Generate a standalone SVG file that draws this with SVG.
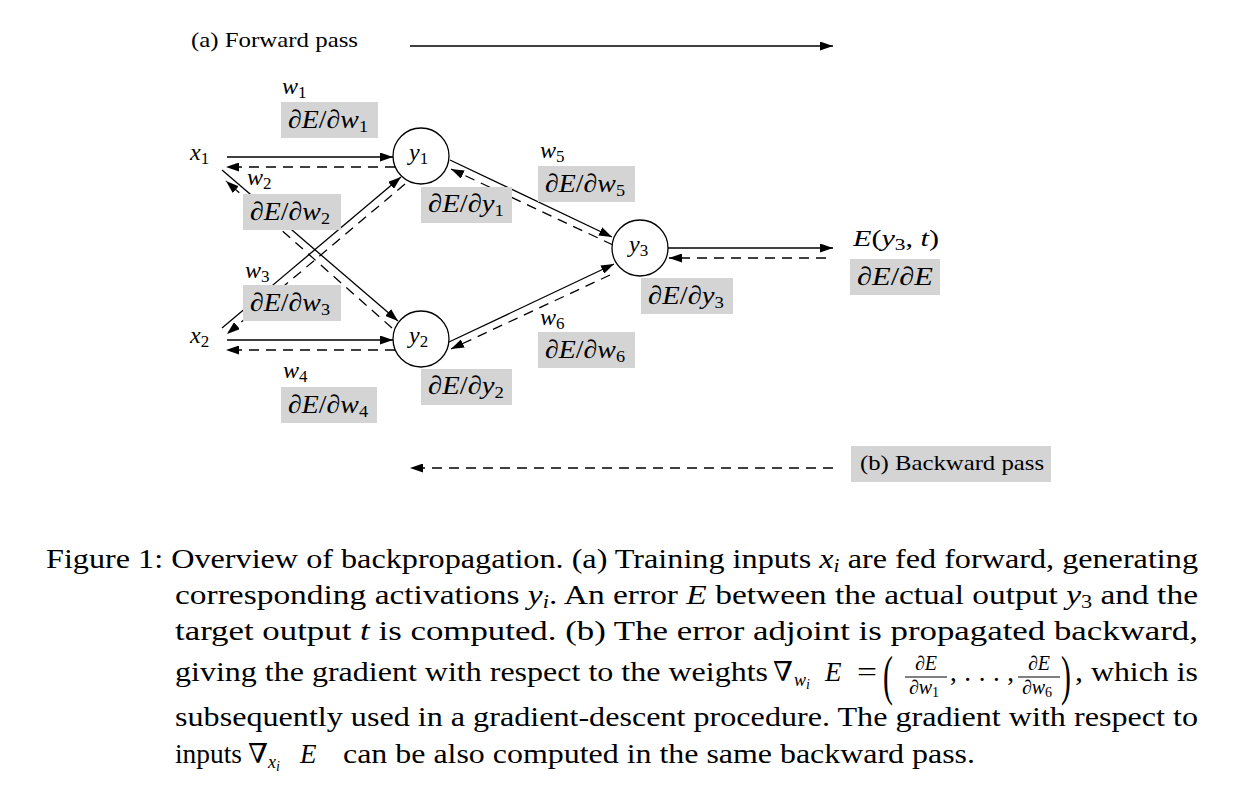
<svg xmlns="http://www.w3.org/2000/svg" width="1242" height="793" viewBox="0 0 1242 793">
<defs>
<marker id="ah" viewBox="0 0 13 9" refX="13" refY="4.5" markerWidth="13" markerHeight="9" markerUnits="userSpaceOnUse" orient="auto">
<path d="M0,0 L13,4.5 L0,9 z" fill="#000"/>
</marker>
<style>
.t{font-family:"Liberation Serif","DejaVu Serif",serif;fill:#000;font-size:21px}
.m{font-family:"Liberation Serif","DejaVu Serif",serif;font-style:italic;fill:#000;font-size:26px}
.wl{font-size:24px}
.r{font-style:normal}
.s{font-size:17px;font-style:normal}
.box{fill:#d4d4d4}
.sol{stroke:#000;stroke-width:1.3;fill:none;marker-end:url(#ah)}
.dsh{stroke:#000;stroke-width:1.3;fill:none;stroke-dasharray:10 7;marker-end:url(#ah)}
.node{fill:#fff;stroke:#000;stroke-width:1.3}
.cap{font-family:"Liberation Serif","DejaVu Serif",serif;font-size:27px;fill:#000}
</style>
</defs>
<rect width="1242" height="793" fill="#fff"/>

<g id="connectors">
<line class="sol" x1="410" y1="46" x2="833" y2="46"/>
<line class="dsh" x1="833" y1="468" x2="410" y2="468"/>
<line class="sol" x1="227" y1="157" x2="393" y2="157"/>
<line class="dsh" x1="395" y1="167" x2="226" y2="167"/>
<line class="sol" x1="227" y1="340" x2="393" y2="340"/>
<line class="dsh" x1="395" y1="350" x2="226" y2="350"/>
<line class="sol" x1="222" y1="170" x2="398" y2="321"/>
<line class="dsh" x1="392" y1="328" x2="226" y2="181"/>
<line class="sol" x1="222" y1="328" x2="401" y2="177"/>
<line class="dsh" x1="405" y1="184" x2="227" y2="334"/>
<line class="sol" x1="450" y1="160" x2="612" y2="237"/>
<line class="dsh" x1="613" y1="245" x2="451" y2="169"/>
<line class="sol" x1="449" y1="342" x2="614" y2="264"/>
<line class="dsh" x1="610" y1="275" x2="451" y2="349"/>
<line class="sol" x1="668" y1="248" x2="833" y2="248"/>
<line class="dsh" x1="826" y1="258" x2="669" y2="258"/>
</g>

<g id="forward-label"><text class="t" x="191" y="47" textLength="167" lengthAdjust="spacingAndGlyphs">(a) Forward pass</text></g>
<g id="backward-label">
<rect class="box" x="851" y="446" width="200" height="36"/>
<text class="t" x="860" y="470" textLength="184" lengthAdjust="spacingAndGlyphs">(b) Backward pass</text>
</g>

<g id="x1"><text class="m wl" x="190" y="160">x<tspan class="s" dy="4">1</tspan></text></g>
<g id="x2"><text class="m wl" x="190" y="343">x<tspan class="s" dy="4">2</tspan></text></g>

<g id="y1"><circle class="node" cx="421" cy="156" r="28"/><text class="m wl" x="409" y="160">y<tspan class="s" dy="4">1</tspan></text></g>
<g id="y2"><circle class="node" cx="421" cy="339" r="28"/><text class="m wl" x="409" y="343">y<tspan class="s" dy="4">2</tspan></text></g>
<g id="y3"><circle class="node" cx="640" cy="248" r="28"/><text class="m wl" x="629" y="252">y<tspan class="s" dy="4">3</tspan></text></g>

<g id="w1"><text class="m wl" x="282" y="94">w<tspan class="s" dy="4">1</tspan></text>
<rect class="box" x="281" y="102" width="97" height="36"/>
<text class="m" x="288" y="128" textLength="80" lengthAdjust="spacingAndGlyphs"><tspan class="r">∂</tspan>E<tspan class="r">/∂</tspan>w<tspan class="s" dy="4">1</tspan></text></g>
<g id="w2"><text class="m wl" x="247" y="185">w<tspan class="s" dy="4">2</tspan></text>
<rect class="box" x="243" y="194" width="98" height="36"/>
<text class="m" x="250" y="220" textLength="80" lengthAdjust="spacingAndGlyphs"><tspan class="r">∂</tspan>E<tspan class="r">/∂</tspan>w<tspan class="s" dy="4">2</tspan></text></g>
<g id="w3"><text class="m wl" x="245" y="278">w<tspan class="s" dy="4">3</tspan></text>
<rect class="box" x="243" y="285" width="98" height="36"/>
<text class="m" x="250" y="311" textLength="80" lengthAdjust="spacingAndGlyphs"><tspan class="r">∂</tspan>E<tspan class="r">/∂</tspan>w<tspan class="s" dy="4">3</tspan></text></g>
<g id="w4"><text class="m wl" x="283" y="378">w<tspan class="s" dy="4">4</tspan></text>
<rect class="box" x="281" y="387" width="96" height="36"/>
<text class="m" x="288" y="413" textLength="80" lengthAdjust="spacingAndGlyphs"><tspan class="r">∂</tspan>E<tspan class="r">/∂</tspan>w<tspan class="s" dy="4">4</tspan></text></g>
<g id="w5"><text class="m wl" x="540" y="158">w<tspan class="s" dy="4">5</tspan></text>
<rect class="box" x="538" y="166" width="97" height="36"/>
<text class="m" x="545" y="192" textLength="80" lengthAdjust="spacingAndGlyphs"><tspan class="r">∂</tspan>E<tspan class="r">/∂</tspan>w<tspan class="s" dy="4">5</tspan></text></g>
<g id="w6"><text class="m wl" x="540" y="325">w<tspan class="s" dy="4">6</tspan></text>
<rect class="box" x="538" y="332" width="97" height="36"/>
<text class="m" x="545" y="358" textLength="80" lengthAdjust="spacingAndGlyphs"><tspan class="r">∂</tspan>E<tspan class="r">/∂</tspan>w<tspan class="s" dy="4">6</tspan></text></g>
<g id="dy1"><rect class="box" x="421" y="187" width="91" height="36"/>
<text class="m" x="428" y="212" textLength="76" lengthAdjust="spacingAndGlyphs"><tspan class="r">∂</tspan>E<tspan class="r">/∂</tspan>y<tspan class="s" dy="4">1</tspan></text></g>
<g id="dy2"><rect class="box" x="421" y="369" width="91" height="36"/>
<text class="m" x="428" y="394" textLength="76" lengthAdjust="spacingAndGlyphs"><tspan class="r">∂</tspan>E<tspan class="r">/∂</tspan>y<tspan class="s" dy="4">2</tspan></text></g>
<g id="dy3"><rect class="box" x="641" y="278" width="92" height="36"/>
<text class="m" x="648" y="304" textLength="76" lengthAdjust="spacingAndGlyphs"><tspan class="r">∂</tspan>E<tspan class="r">/∂</tspan>y<tspan class="s" dy="4">3</tspan></text></g>
<g id="E"><text class="m wl" x="853" y="246" textLength="86" lengthAdjust="spacingAndGlyphs">E<tspan class="r">(</tspan>y<tspan class="s" dy="4">3</tspan><tspan class="r" dy="-4">, </tspan>t<tspan class="r">)</tspan></text>
<rect class="box" x="850" y="259" width="90" height="36"/>
<text class="m" x="857" y="285" textLength="76" lengthAdjust="spacingAndGlyphs"><tspan class="r">∂</tspan>E<tspan class="r">/∂</tspan>E</text></g>

<g id="caption">
<text class="cap" x="46" y="568" textLength="1152" lengthAdjust="spacingAndGlyphs">Figure 1: Overview of backpropagation. (a) Training inputs <tspan font-style="italic">x</tspan><tspan font-style="italic" font-size="18" dy="4">i</tspan><tspan dy="-4"> are fed forward, generating</tspan></text>
<text class="cap" x="175" y="604" textLength="1023" lengthAdjust="spacingAndGlyphs">corresponding activations <tspan font-style="italic">y</tspan><tspan font-style="italic" font-size="18" dy="4">i</tspan><tspan dy="-4">. An error </tspan><tspan font-style="italic">E</tspan> between the actual output <tspan font-style="italic">y</tspan><tspan font-size="18" dy="4">3</tspan><tspan dy="-4"> and the</tspan></text>
<text class="cap" x="175" y="640" textLength="1023" lengthAdjust="spacingAndGlyphs">target output <tspan font-style="italic">t</tspan> is computed.  (b) The error adjoint is propagated backward,</text>
<text class="cap" x="175" y="681" textLength="593" lengthAdjust="spacingAndGlyphs">giving the gradient with respect to the weights</text>
<text class="cap" x="773" y="681" textLength="20" lengthAdjust="spacingAndGlyphs">∇</text>
<text class="cap" x="794" y="686" style="font-size:18px;font-style:italic">w<tspan font-size="14" dy="3">i</tspan></text>
<text class="cap" x="825" y="681" style="font-style:italic">E</text>
<text class="cap" x="857" y="681" textLength="20" lengthAdjust="spacingAndGlyphs">=</text>
<text class="cap" x="883" y="694" style="font-size:54px" transform="translate(883 0) scale(0.55 1) translate(-883 0)">(</text>
<text class="cap" x="926" y="670" style="font-size:20px" text-anchor="middle">∂<tspan font-style="italic">E</tspan></text>
<line x1="905" y1="677" x2="947" y2="677" stroke="#000" stroke-width="1"/>
<text class="cap" x="924" y="694" style="font-size:20px" text-anchor="middle">∂<tspan font-style="italic">w</tspan><tspan font-size="14" dy="3">1</tspan></text>
<text class="cap" x="950" y="681" textLength="64" lengthAdjust="spacing">, . . . ,</text>
<text class="cap" x="1039" y="670" style="font-size:20px" text-anchor="middle">∂<tspan font-style="italic">E</tspan></text>
<line x1="1018" y1="677" x2="1060" y2="677" stroke="#000" stroke-width="1"/>
<text class="cap" x="1037" y="694" style="font-size:20px" text-anchor="middle">∂<tspan font-style="italic">w</tspan><tspan font-size="14" dy="3">6</tspan></text>
<text class="cap" x="1061" y="694" style="font-size:54px" transform="translate(1061 0) scale(0.55 1) translate(-1061 0)">)</text>
<text class="cap" x="1075" y="681" textLength="123" lengthAdjust="spacingAndGlyphs">, which is</text>
<text class="cap" x="175" y="726" textLength="1023" lengthAdjust="spacingAndGlyphs">subsequently used in a gradient-descent procedure. The gradient with respect to</text>
<text class="cap" x="175" y="763" textLength="67" lengthAdjust="spacingAndGlyphs">inputs</text>
<text class="cap" x="248" y="763" textLength="20" lengthAdjust="spacingAndGlyphs">∇</text>
<text class="cap" x="268" y="768" style="font-size:18px;font-style:italic">x<tspan font-size="14" dy="3">i</tspan></text>
<text class="cap" x="300" y="763" style="font-style:italic">E</text>
<text class="cap" x="343" y="763" textLength="632" lengthAdjust="spacingAndGlyphs">can be also computed in the same backward pass.</text>
</g>
</svg>
